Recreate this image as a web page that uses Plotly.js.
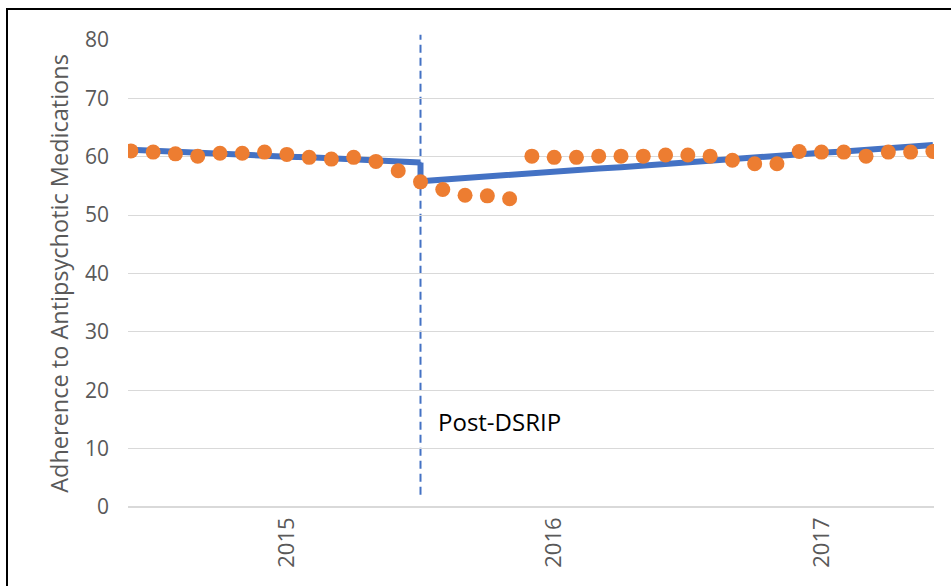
<!DOCTYPE html>
<html>
<head>
<meta charset="utf-8">
<script src="https://cdn.plot.ly/plotly-3.0.1.min.js"></script>
<style>
html,body{margin:0;padding:0;background:#fff;}
#frame{position:absolute;left:6px;top:8px;width:960px;height:600px;border-left:2px solid #000;border-top:2px solid #000;box-sizing:border-box;pointer-events:none;z-index:10;}
#chart{position:absolute;left:0;top:0;width:951px;height:586px;}
</style>
</head>
<body>
<div id="chart"></div>
<div id="frame"></div>
<script>
// Monthly observed adherence (%), index 0..36
const monthIndex = [0,1,2,3,4,5,6,7,8,9,10,11,12,13,14,15,16,17,18,19,20,21,22,23,24,25,26,27,28,29,30,31,32,33,34,35,36];
const observed = [61.0,60.8,60.5,60.1,60.6,60.6,60.8,60.4,59.9,59.6,59.9,59.2,57.6,55.7,54.4,53.4,53.3,52.8,60.1,59.9,59.9,60.1,60.1,60.1,60.3,60.3,60.1,59.4,58.8,58.8,60.9,60.8,60.8,60.1,60.8,60.8,60.9];

// Fitted segmented trend
const preTrendX = [0,1,2,3,4,5,6,7,8,9,10,11,12,13];
const preTrendY = [61.2,61.0,60.9,60.7,60.5,60.4,60.2,60.0,59.9,59.7,59.5,59.4,59.2,59.0];
const postTrendX = [13,14,15,16,17,18,19,20,21,22,23,24,25,26,27,28,29,30,31,32,33,34,35,36];
const postTrendY = [55.8,56.1,56.3,56.6,56.9,57.2,57.4,57.7,58.0,58.2,58.5,58.8,59.0,59.3,59.6,59.9,60.1,60.4,60.7,60.9,61.2,61.5,61.8,62.0];

const yearTickPos = [7,19,31];
const yearTickText = ["2015","2016","2017"];
const interventionIndex = 13;
const yTickVals = [0,10,20,30,40,50,60,70,80];

const FONT = "Open Sans, Liberation Sans, sans-serif";
const BLUE = '#4472C4';

// level-change step joins the end of the pre trend to the start of the post trend
const stepX = [preTrendX[preTrendX.length - 1], postTrendX[0]];
const stepY = [preTrendY[preTrendY.length - 1], postTrendY[0]];

const traces = [
  {x: preTrendX, y: preTrendY, type: 'scatter', mode: 'lines',
   line: {color: BLUE, width: 6}, hoverinfo: 'skip', showlegend: false},
  {x: stepX, y: stepY, type: 'scatter', mode: 'lines',
   line: {color: BLUE, width: 6}, hoverinfo: 'skip', showlegend: false},
  {x: postTrendX, y: postTrendY, type: 'scatter', mode: 'lines',
   line: {color: BLUE, width: 6}, hoverinfo: 'skip', showlegend: false},
  {x: monthIndex, y: observed, type: 'scatter', mode: 'markers',
   marker: {color: '#ED7D31', size: 15}, showlegend: false}
];

const layout = {
  width: 951, height: 586,
  margin: {l: 128, r: 17, t: 40, b: 79},
  paper_bgcolor: '#fff', plot_bgcolor: '#fff',
  showlegend: false,
  font: {family: FONT, color: '#595959', size: 21},
  xaxis: {
    range: [-0.13, 36.05], showgrid: false, zeroline: false, showline: false,
    tickmode: 'array', tickvals: yearTickPos, ticktext: yearTickText,
    tickangle: -90, ticks: '', ticklen: 0, ticklabelstandoff: 5,
    tickfont: {size: 22, color: '#595959', family: FONT},
    fixedrange: true
  },
  yaxis: {
    range: [0, 80], tickmode: 'array', tickvals: yTickVals,
    showgrid: true, gridcolor: '#D9D9D9', gridwidth: 1,
    zeroline: true, zerolinecolor: '#D9D9D9', zerolinewidth: 2,
    showline: false, ticks: '', ticklabelstandoff: 18,
    tickfont: {size: 21, color: '#595959', family: FONT},
    title: {text: 'Adherence to Antipsychotic Medications', font: {size: 23.5, color: '#595959', family: FONT}, standoff: 9},
    fixedrange: true
  },
  shapes: [
    {type: 'line', xref: 'x', yref: 'paper', x0: interventionIndex, x1: interventionIndex, y0: 0.026, y1: 1.011,
     line: {color: BLUE, width: 2, dash: '8px,5px'}, layer: 'below'}
  ],
  annotations: [
    {x: interventionIndex + 0.7, y: 14.7, xref: 'x', yref: 'y', text: 'Post-DSRIP', showarrow: false,
     xanchor: 'left', yanchor: 'middle', font: {size: 24, color: '#000', family: FONT}}
  ]
};

Plotly.newPlot('chart', traces, layout, {displayModeBar: false, staticPlot: true});
</script>
</body>
</html>
